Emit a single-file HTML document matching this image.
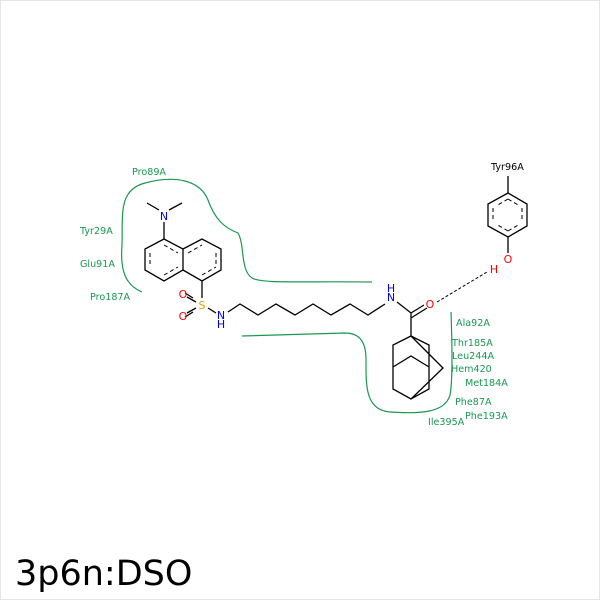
<!DOCTYPE html>
<html><head><style>html,body{margin:0;padding:0;background:#fff}</style></head><body>
<svg width="600" height="600" xmlns="http://www.w3.org/2000/svg" font-family="DejaVu Sans, sans-serif">
<rect x="0.5" y="0.5" width="599" height="599" fill="#fff" stroke="#e6e6e6"/>
<g fill="none" stroke="#1a9850" stroke-width="1.2">
<path d="M142,292 C125,285 120,270 122,245 C123,215 118,190 145,183 C175,175 200,180 208,200 C215,220 225,228 238,233 C245,245 240,270 252,278 C262,284 300,281 372,282"/>
<path d="M242,336 L345,333 C362,333 366,345 366,360 C366,385 365,410 390,412 C420,414 445,413 450,395 C453,380 452,340 451,312"/>
</g>
<g stroke="#000" stroke-width="1.3" fill="none">
<path d="M164,239 L145,249 L145,270 L164,281 L183,270 L183,249 Z"/>
<path d="M183,249 L202,239 L221,249 L221,270 L202,281 L183,270"/>
<path d="M164,239 L164,222 M159,210 L147,203 M169,210 L182,203 M202,281 L202,298"/>
<path d="M196,302 L187,297 M193,298 L185,293 M196,308 L187,313 M193,312 L185,317 M208,308 L216,313"/>
<path d="M228,312 L240,304 L258,315 L276,304 L295,315 L313,304 L331,315 L350,304 L368,315 L385,304"/>
<path d="M397,302 L411,313 L424,305 M411,318 L427,308 M411,313 L411,337"/>
<path d="M411,336 L393,345 L393,367 L411,356 L429,367 M411,336 L429,345 L429,389 L411,399 L393,389 L393,367 M411,336 L443,368 L411,399"/>
<path d="M508,193 L488,204 L488,226 L508,237 L527,226 L527,204 Z M508,193 L508,176 M508,237 L508,253"/>
</g>
<g stroke="#000" stroke-width="1" stroke-dasharray="4,3" fill="none">
<path d="M150,253 L150,266 M164,245 L178,253 M164,275 L178,267 M188,253 L202,245 M202,275 L216,267 M216,253 L216,266"/>
<path d="M493,208 L493,222 M522,208 L522,222 M508,199 L520,206 M508,199 L496,206 M508,231 L520,224 M508,231 L496,224"/>
<path d="M437,302 L487,272" stroke-dasharray="3,2"/>
</g>
<g font-size="11" text-anchor="middle">
<text x="164" y="220" fill="#0000ff">N</text>
<text x="202" y="309" fill="#e6a000">S</text>
<text x="183" y="298" fill="#ff0000">O</text>
<text x="183" y="320" fill="#ff0000">O</text>
<text x="221" y="319" fill="#0000ff">N</text>
<text x="221" y="328" fill="#0000ff">H</text>
<text x="391" y="301" fill="#0000ff">N</text>
<text x="391" y="292" fill="#0000ff">H</text>
<text x="430" y="308" fill="#ff0000">O</text>
<text x="508" y="263" fill="#ff0000">O</text>
<text x="494" y="273" fill="#ff0000">H</text>
</g>
<g font-size="9.6" fill="#1a9850">
<text x="132" y="175">Pro89A</text>
<text x="80" y="234">Tyr29A</text>
<text x="80" y="267">Glu91A</text>
<text x="90" y="300">Pro187A</text>
<text x="456" y="326">Ala92A</text>
<text x="452" y="346">Thr185A</text>
<text x="452" y="359">Leu244A</text>
<text x="451" y="372">Hem420</text>
<text x="465" y="386">Met184A</text>
<text x="455" y="405">Phe87A</text>
<text x="465" y="419">Phe193A</text>
<text x="428" y="425">Ile395A</text>
</g>
<text x="491" y="170" font-size="9.6" fill="#000">Tyr96A</text>
<text x="15" y="585" font-size="35" fill="#000">3p6n:DSO</text>
</svg>
</body></html>
